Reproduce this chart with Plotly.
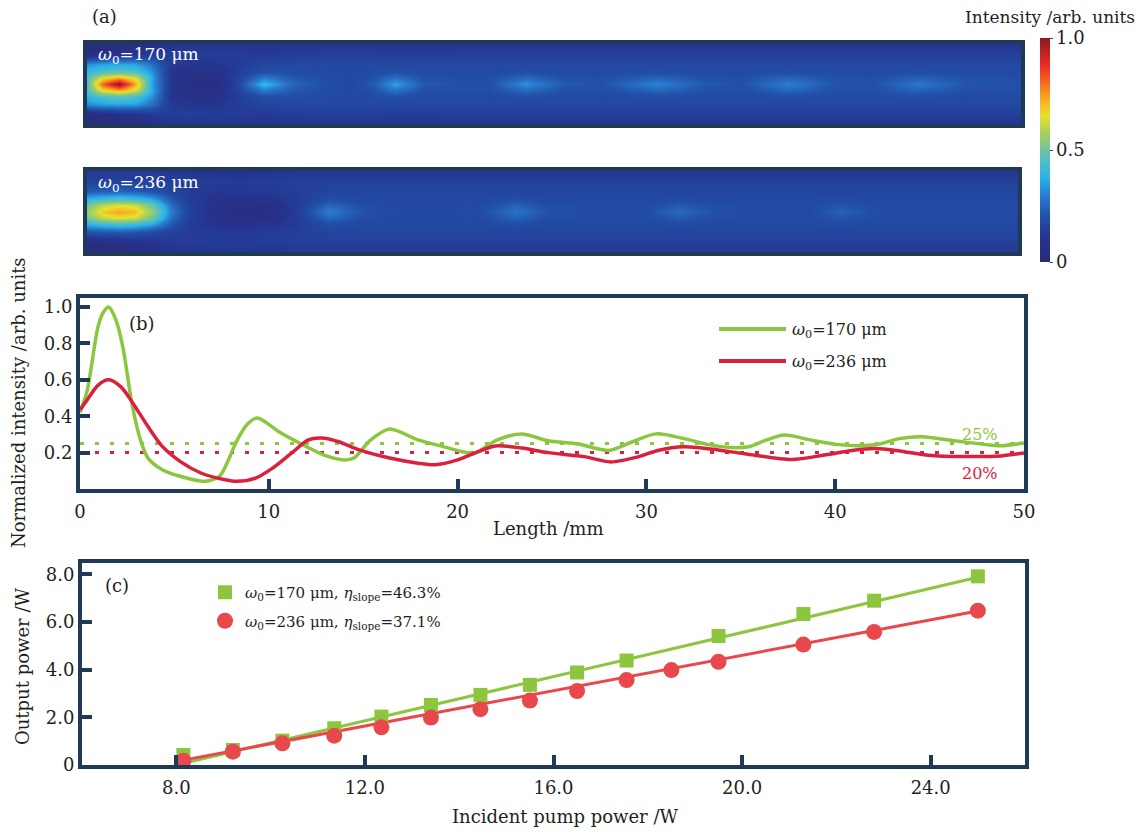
import plotly.graph_objects as go

W, H = 1146, 832
FONT = "DejaVu Serif"
NAVY = "#1f3a56"
TXT = "#231f20"
GREEN = "#8cc63e"
RED_B = "#d9213d"
RED_C = "#e8474c"

rows_y = [-1, -0.75, -0.5, -0.3, -0.15, 0, 0.15, 0.3, 0.5, 0.75, 1]

xa_170 = [0, 0.8, 1.7, 2.6, 3.5, 4.5, 5.5, 6.8, 8.0, 9.5, 11, 12.5, 14, 15.3, 16.5,
          18, 20, 21.5, 23.5, 25.5, 27.5, 30.5, 33, 35, 37.5, 40, 42, 44.5, 47, 50]
a170_r0 = [0.45, 0.80, 1.00, 0.72, 0.35, 0.10, 0.05, 0.03, 0.15, 0.40, 0.25, 0.20, 0.17, 0.22, 0.36,
           0.22, 0.20, 0.20, 0.33, 0.22, 0.20, 0.31, 0.22, 0.20, 0.30, 0.21, 0.20, 0.29, 0.21, 0.20]
a170_r15 = [0.45, 0.66, 0.74, 0.63, 0.36, 0.10, 0.06, 0.05, 0.14, 0.30, 0.22, 0.19, 0.17, 0.20, 0.28,
            0.20, 0.19, 0.19, 0.26, 0.20, 0.19, 0.25, 0.20, 0.19, 0.25, 0.20, 0.19, 0.24, 0.20, 0.19]
a170_r30 = [0.40, 0.45, 0.48, 0.45, 0.33, 0.10, 0.07, 0.07, 0.13, 0.20, 0.19, 0.18, 0.17, 0.18, 0.20,
            0.18, 0.18, 0.18, 0.19, 0.18, 0.18, 0.19, 0.18, 0.18, 0.19, 0.18, 0.18, 0.19, 0.18, 0.18]
a170_r50 = [0.32, 0.35, 0.36, 0.35, 0.27, 0.12, 0.10, 0.10, 0.13, 0.16, 0.17, 0.17, 0.17, 0.17, 0.17,
            0.17, 0.17, 0.17, 0.17, 0.17, 0.17, 0.17, 0.17, 0.17, 0.17, 0.17, 0.17, 0.17, 0.17, 0.17]
a170_r75 = [0.04, 0.06, 0.08, 0.10, 0.12, 0.14, 0.14, 0.13, 0.13, 0.12, 0.13, 0.14, 0.14, 0.14, 0.13,
            0.13, 0.14, 0.14, 0.14, 0.14, 0.14, 0.14, 0.14, 0.14, 0.14, 0.14, 0.14, 0.14, 0.14, 0.14]
a170_r100 = [0.02, 0.02, 0.03, 0.04, 0.06, 0.09, 0.10, 0.10, 0.09, 0.09, 0.10, 0.10, 0.10, 0.10, 0.10,
             0.10, 0.10, 0.10, 0.10, 0.10, 0.10, 0.10, 0.10, 0.10, 0.10, 0.10, 0.10, 0.10, 0.10, 0.10]

xa_236 = [0, 0.8, 1.7, 2.6, 3.5, 4.5, 5.5, 6.8, 8.2, 9.8, 11.3, 13.0, 14.8, 17, 19.5,
          21.2, 23.0, 24.8, 27.5, 30, 31.8, 33.6, 36, 38.8, 40.5, 42.3, 45, 47.5, 50]
a236_r0 = [0.55, 0.68, 0.74, 0.70, 0.55, 0.30, 0.15, 0.07, 0.04, 0.05, 0.13, 0.30, 0.20, 0.17, 0.17,
           0.19, 0.28, 0.20, 0.18, 0.19, 0.26, 0.20, 0.18, 0.18, 0.24, 0.19, 0.18, 0.18, 0.18]
a236_r15 = [0.50, 0.60, 0.64, 0.62, 0.50, 0.27, 0.14, 0.08, 0.05, 0.06, 0.13, 0.25, 0.19, 0.17, 0.17,
            0.18, 0.24, 0.19, 0.18, 0.18, 0.22, 0.19, 0.18, 0.18, 0.21, 0.18, 0.18, 0.18, 0.18]
a236_r30 = [0.38, 0.42, 0.44, 0.42, 0.36, 0.22, 0.13, 0.09, 0.08, 0.09, 0.13, 0.19, 0.17, 0.17, 0.17,
            0.17, 0.19, 0.17, 0.17, 0.17, 0.18, 0.17, 0.17, 0.17, 0.18, 0.17, 0.17, 0.17, 0.17]
a236_r50t = [0.22, 0.23, 0.24, 0.23, 0.20, 0.16, 0.13, 0.11, 0.11, 0.12, 0.14, 0.16, 0.16, 0.16, 0.16,
             0.16, 0.16, 0.16, 0.16, 0.16, 0.16, 0.16, 0.16, 0.16, 0.16, 0.16, 0.16, 0.16, 0.16]
a236_r75t = [0.15, 0.15, 0.15, 0.15, 0.15, 0.15, 0.14, 0.13, 0.12, 0.13, 0.14, 0.14, 0.14, 0.14, 0.14,
             0.14, 0.14, 0.14, 0.14, 0.14, 0.14, 0.14, 0.14, 0.14, 0.14, 0.14, 0.14, 0.14, 0.14]
a236_r100t = [0.12, 0.12, 0.12, 0.12, 0.12, 0.11, 0.10, 0.09, 0.09, 0.10, 0.11, 0.11, 0.11, 0.11, 0.11,
              0.11, 0.11, 0.11, 0.11, 0.11, 0.11, 0.11, 0.11, 0.11, 0.11, 0.11, 0.11, 0.11, 0.11]
a236_r50b = [0.20, 0.21, 0.22, 0.21, 0.18, 0.15, 0.13, 0.12, 0.12, 0.13, 0.14, 0.16, 0.16, 0.16, 0.16,
             0.16, 0.16, 0.16, 0.16, 0.16, 0.16, 0.16, 0.16, 0.16, 0.16, 0.16, 0.16, 0.16, 0.16]
a236_r75b = [0.04, 0.05, 0.06, 0.08, 0.10, 0.12, 0.13, 0.13, 0.12, 0.13, 0.14, 0.14, 0.14, 0.14, 0.14,
             0.14, 0.14, 0.14, 0.14, 0.14, 0.14, 0.14, 0.14, 0.14, 0.14, 0.14, 0.14, 0.14, 0.14]
a236_r100b = [0.01, 0.02, 0.03, 0.04, 0.06, 0.08, 0.09, 0.10, 0.10, 0.10, 0.11, 0.11, 0.11, 0.11, 0.11,
              0.11, 0.11, 0.11, 0.11, 0.11, 0.11, 0.11, 0.11, 0.11, 0.11, 0.11, 0.11, 0.11, 0.11]

# ---------------- Panel (b): on-axis normalized intensity ----------------
len_170 = [0, 0.38, 0.95, 1.23, 1.52, 1.9, 2.27, 2.75, 3.2, 3.6, 4.36, 5.3, 6.63, 7.39, 7.86, 8.33,
           8.9, 9.4, 10.6, 11.8, 12.9, 14.0, 14.5, 15.4, 16.4, 17.9, 19.2, 20.2, 20.9, 22.1, 23.4,
           24.8, 26.4, 28.0, 29.2, 30.5, 32.0, 33.3, 34.5, 35.4, 36.3, 37.3, 38.8, 40.2, 41.2,
           42.3, 43.4, 44.6, 46.2, 48.0, 48.8, 50]
int_170 = [0.42, 0.54, 0.89, 0.97, 1.0, 0.93, 0.78, 0.47, 0.27, 0.17, 0.106, 0.07, 0.042, 0.07, 0.16,
           0.27, 0.36, 0.39, 0.31, 0.243, 0.188, 0.16, 0.17, 0.27, 0.33, 0.27, 0.234, 0.206, 0.197,
           0.27, 0.303, 0.265, 0.247, 0.212, 0.257, 0.303, 0.277, 0.244, 0.228, 0.232, 0.267,
           0.297, 0.267, 0.244, 0.238, 0.246, 0.277, 0.287, 0.267, 0.244, 0.238, 0.253]
len_236 = [0, 0.38, 0.95, 1.52, 2.18, 2.75, 3.6, 4.36, 5.3, 6.4, 7.5, 8.3, 9.3, 10.2, 11.2, 12.1,
           12.8, 13.7, 14.8, 16.4, 17.9, 18.8, 20.0, 21.1, 22.0, 23.4, 24.8, 26.7, 28.1, 29.6,
           30.6, 32.0, 33.5, 35.2, 37.7, 39.5, 40.9, 42.1, 43.5, 45.1, 47.3, 48.8, 50]
int_236 = [0.435, 0.49, 0.57, 0.60, 0.56, 0.48, 0.343, 0.234, 0.152, 0.088, 0.055, 0.042, 0.06,
           0.115, 0.197, 0.27, 0.28, 0.26, 0.215, 0.17, 0.142, 0.133, 0.16, 0.206, 0.237, 0.225,
           0.20, 0.178, 0.149, 0.178, 0.212, 0.232, 0.218, 0.194, 0.162, 0.188, 0.212, 0.222,
           0.208, 0.184, 0.178, 0.182, 0.198]
ref_len = [0, 50]
ref_170 = [0.25, 0.25]
ref_236 = [0.20, 0.20]

# ---------------- Panel (c): output power ----------------
pump_170 = [8.15, 9.2, 10.25, 11.35, 12.35, 13.4, 14.45, 15.5, 16.5, 17.55, 19.5, 21.3, 22.8, 25.0]
out_170 = [0.42, 0.63, 1.02, 1.54, 2.03, 2.52, 2.94, 3.36, 3.88, 4.38, 5.41, 6.33, 6.89, 7.91]
pump_236 = [8.15, 9.2, 10.25, 11.35, 12.35, 13.4, 14.45, 15.5, 16.5, 17.55, 18.5, 19.5, 21.3, 22.8, 25.0]
out_236 = [0.18, 0.56, 0.91, 1.23, 1.58, 1.99, 2.34, 2.70, 3.10, 3.56, 3.98, 4.33, 5.05, 5.58, 6.47]
slope_170, thr_170 = 0.463, 8.0
slope_236, thr_236 = 0.371, 7.6


def fx(p):
    return p / W


def fy(p):
    return 1 - p / H


fig = go.Figure()

z170 = [a170_r100, a170_r75, a170_r50, a170_r30, a170_r15, a170_r0,
        a170_r15, a170_r30, a170_r50, a170_r75, a170_r100]
z236 = [a236_r100t, a236_r75t, a236_r50t, a236_r30, a236_r15, a236_r0,
        a236_r15, a236_r30, a236_r50b, a236_r75b, a236_r100b]
fig.add_trace(go.Heatmap(x=xa_170, y=rows_y, z=z170[::-1], coloraxis="coloraxis",
                         zsmooth="best", xaxis="x", yaxis="y", hoverinfo="skip", showlegend=False))
fig.add_trace(go.Heatmap(x=xa_236, y=rows_y, z=z236[::-1], coloraxis="coloraxis",
                         zsmooth="best", xaxis="x2", yaxis="y2", hoverinfo="skip", showlegend=False))

# panel b
fig.add_trace(go.Scatter(x=ref_len, y=ref_170, mode="lines", xaxis="x3", yaxis="y3",
                         line=dict(color=GREEN, width=3, dash="4px,11px"), showlegend=False))
fig.add_trace(go.Scatter(x=ref_len, y=ref_236, mode="lines", xaxis="x3", yaxis="y3",
                         line=dict(color=RED_B, width=3, dash="4px,11px"), showlegend=False))
fig.add_trace(go.Scatter(x=len_170, y=int_170, mode="lines", xaxis="x3", yaxis="y3",
                         line=dict(color=GREEN, width=3.5, shape="spline", smoothing=0.8),
                         showlegend=False))
fig.add_trace(go.Scatter(x=len_236, y=int_236, mode="lines", xaxis="x3", yaxis="y3",
                         line=dict(color=RED_B, width=3.5, shape="spline", smoothing=0.8),
                         showlegend=False))

# panel c
fit_x170 = [pump_170[0], pump_170[-1]]
fit_y170 = [slope_170 * (v - thr_170) for v in fit_x170]
fit_x236 = [pump_236[0], pump_236[-1]]
fit_y236 = [slope_236 * (v - thr_236) for v in fit_x236]
fig.add_trace(go.Scatter(x=fit_x170, y=fit_y170, mode="lines", xaxis="x4", yaxis="y4",
                         line=dict(color=GREEN, width=3), showlegend=False))
fig.add_trace(go.Scatter(x=fit_x236, y=fit_y236, mode="lines", xaxis="x4", yaxis="y4",
                         line=dict(color=RED_C, width=3), showlegend=False))
fig.add_trace(go.Scatter(x=pump_170, y=out_170, mode="markers", xaxis="x4", yaxis="y4",
                         marker=dict(symbol="square", size=14, color=GREEN),
                         name="<i>ω</i><sub>0</sub>=170 μm, <i>η</i><sub>slope</sub>=46.3%",
                         legend="legend2", legendgroup="a"))
fig.add_trace(go.Scatter(x=pump_236, y=out_236, mode="markers", xaxis="x4", yaxis="y4",
                         marker=dict(symbol="circle", size=16, color=RED_C),
                         name="<i>ω</i><sub>0</sub>=236 μm, <i>η</i><sub>slope</sub>=37.1%",
                         legend="legend2", legendgroup="b"))

frame = dict(showline=True, linecolor=NAVY, linewidth=4, mirror=True,
             showgrid=False, zeroline=False, automargin=False)
hm_axis = dict(frame, showticklabels=False, ticks="")
tick_axis = dict(frame, ticks="inside", ticklen=10, tickwidth=4, tickcolor=NAVY,
                 tickfont=dict(size=18, family=FONT, color=TXT))

colorscale = [
    [0.0, "#2b2a78"], [0.1, "#25348f"], [0.2, "#2250a8"], [0.3, "#2a7dd0"],
    [0.37, "#29b0e6"], [0.45, "#4fc0c8"], [0.5, "#70c49a"], [0.58, "#a8d25a"],
    [0.65, "#e6e12e"], [0.72, "#f9b122"], [0.8, "#f26b21"], [0.88, "#ec2a26"],
    [1.0, "#8b1a1c"],
]

fig.update_layout(
    width=W, height=H, margin=dict(l=0, r=0, t=0, b=0, pad=0, autoexpand=False),
    paper_bgcolor="white", plot_bgcolor="white",
    font=dict(family=FONT, size=18, color=TXT),
    coloraxis=dict(
        colorscale=colorscale, cmin=0, cmax=1,
        colorbar=dict(x=fx(1040), xanchor="left", xpad=0, y=fy(262), yanchor="bottom", ypad=0,
                      len=(262 - 38) / H, lenmode="fraction", thickness=10,
                      outlinewidth=0, tickvals=[0, 0.5, 1], ticktext=["0", "0.5", "1.0"],
                      ticks="outside", ticklen=3, tickcolor="#444",
                      tickfont=dict(size=18, family=FONT, color=TXT)),
    ),
    xaxis=dict(hm_axis, domain=[fx(87), fx(1021)], range=[0, 50], anchor="y"),
    yaxis=dict(hm_axis, domain=[fy(124), fy(44)], range=[-1, 1], anchor="x"),
    xaxis2=dict(hm_axis, domain=[fx(87), fx(1018)], range=[0, 50], anchor="y2"),
    yaxis2=dict(hm_axis, domain=[fy(252), fy(171)], range=[-1, 1], anchor="x2"),
    xaxis3=dict(tick_axis, domain=[fx(80), fx(1024)], range=[0, 50], anchor="y3",
                tickvals=[0, 10, 20, 30, 40, 50], ticktext=["0", "10", "20", "30", "40", "50"],
                ticklabelstandoff=3),
    yaxis3=dict(tick_axis, domain=[fy(489), fy(298)], range=[0, 1.05], anchor="x3",
                tickvals=[0.2, 0.4, 0.6, 0.8, 1.0], ticktext=["0.2", "0.4", "0.6", "0.8", "1.0"]),
    xaxis4=dict(tick_axis, domain=[fx(82), fx(1025)], range=[6, 26], anchor="y4",
                tickvals=[8, 12, 16, 20, 24], ticktext=["8.0", "12.0", "16.0", "20.0", "24.0"],
                ticklabelstandoff=3),
    yaxis4=dict(tick_axis, domain=[fy(765), fy(563)], range=[0, 8.47], anchor="x4",
                tickvals=[0, 2, 4, 6, 8], ticktext=["0", "2.0", "4.0", "6.0", "8.0"]),
    showlegend=True,
    legend2=dict(x=fx(205), y=fy(576), xanchor="left", yanchor="top",
                 bgcolor="rgba(0,0,0,0)", font=dict(size=15, family=FONT, color=TXT),
                 traceorder="grouped", tracegroupgap=6, itemwidth=30),
)

# manual legend samples for panel (b)
shapes = []
for yy, col in [(329, GREEN), (361, RED_B)]:
    shapes.append(dict(type="line", xref="paper", yref="paper", x0=fx(719), x1=fx(786),
                       y0=fy(yy), y1=fy(yy), line=dict(color=col, width=4)))
fig.update_layout(shapes=shapes)


def ann(text, x, y, size=18, color=TXT, xanchor="center", angle=0):
    fig.add_annotation(text=text, x=fx(x), y=fy(y), xref="paper", yref="paper",
                       showarrow=False, xanchor=xanchor, yanchor="middle", textangle=angle,
                       font=dict(size=size, family=FONT, color=color))


ann("(a)", 90, 17, size=18, xanchor="left")
ann("Intensity /arb. units", 1137, 17, size=17, xanchor="right")
ann("<i>ω</i><sub>0</sub>=170 μm", 96, 55, size=17, color="white", xanchor="left")
ann("<i>ω</i><sub>0</sub>=236 μm", 96, 183, size=17, color="white", xanchor="left")
ann("(b)", 127, 323, size=18, xanchor="left")
ann("<i>ω</i><sub>0</sub>=170 μm", 790, 330, size=16, xanchor="left")
ann("<i>ω</i><sub>0</sub>=236 μm", 790, 362, size=16, xanchor="left")
ann("25%", 980, 434, size=16, color=GREEN)
ann("20%", 980, 473, size=16, color=RED_B)
ann("Normalized intensity /arb. units", 18, 403, size=18, angle=-90)
ann("Length /mm", 548, 528, size=18)
ann("(c)", 103, 585, size=18, xanchor="left")
ann("Output power /W", 22, 667, size=18, angle=-90)
ann("Incident pump power /W", 565, 816, size=18)

fig.write_html("out.html")
